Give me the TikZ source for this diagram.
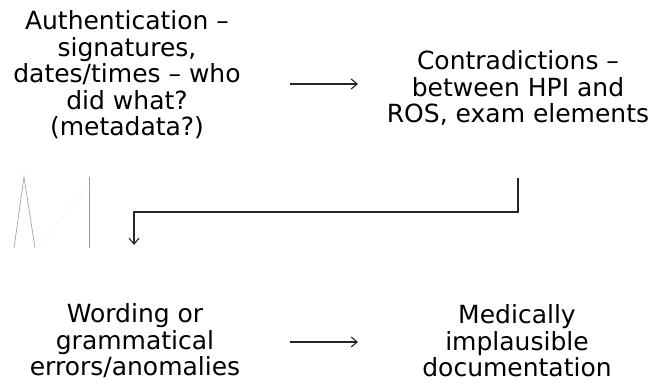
\documentclass[tikz,border=0pt]{standalone}
\usepackage{fontspec}
\setmainfont{DejaVu Sans}
\usetikzlibrary{arrows.meta}
\begin{document}
\begin{tikzpicture}[x=1pt,y=-1pt,
  txt/.style={align=center,inner sep=0pt,font=\fontsize{25}{26.5}\selectfont},
  conn/.style={draw=black!85,line width=1.1pt,-{Straight Barb[length=6pt,width=10pt]}},
  ghost/.style={draw=black!40,line width=0.6pt}]
\useasboundingbox (0,0) rectangle (658,387);
\node[txt] (auth) at (127,75) {Authentication –\\signatures,\\dates/times – who\\did what?\\(metadata?)};
\node[txt] (contra) at (518,88) {Contradictions –\\between HPI and\\ROS, exam elements};
\node[txt] (word) at (135,341) {Wording or\\grammatical\\errors/anomalies};
\node[txt] (med) at (517,341) {Medically\\implausible\\documentation};
\coordinate (a1s) at (290,84);
\coordinate (a1e) at (358,84);
\draw[conn] (a1s) -- (a1e);
\coordinate (a2s) at (290,342);
\coordinate (a2e) at (358,342);
\draw[conn] (a2s) -- (a2e);
\coordinate (e1) at (518,178);
\coordinate (e2) at (518,212);
\coordinate (e3) at (134,212);
\coordinate (e4) at (134,245);
\draw[conn] (e1) -- (e2) -- (e3) -- (e4);
% faint marks
\coordinate (g1) at (14,248);
\coordinate (g2) at (24,177);
\coordinate (g3) at (35,248);
\coordinate (g4) at (89,188);
\coordinate (g5) at (89,177);
\coordinate (g6) at (89,248);
\draw[ghost] (g1) -- (g2) -- (g3);
\draw[ghost,draw=black!15,dotted] (g3) -- (g4);
\draw[ghost] (g5) -- (g6);
\end{tikzpicture}
\end{document}
